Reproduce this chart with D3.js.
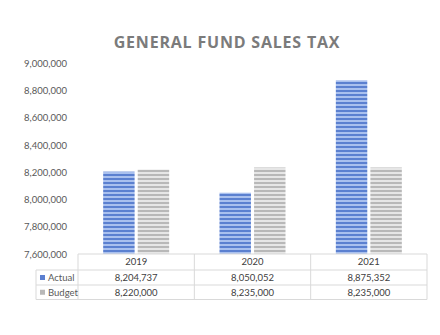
<!DOCTYPE html>
<html><head><meta charset="utf-8">
<script src="https://cdn.jsdelivr.net/npm/d3@7"></script>
<style>body{margin:0;background:#fff}svg{display:block}</style>
</head><body>
<svg id="c" width="440" height="335"></svg>
<script>
const categories = ["2019", "2020", "2021"];
const seriesNames = ["Actual", "Budget"];
const actual = [8204737, 8050052, 8875352];
const budget = [8220000, 8235000, 8235000];
const yTicks = [7600000, 7800000, 8000000, 8200000, 8400000, 8600000, 8800000, 9000000];
const title = "GENERAL FUND SALES TAX";

(function () {
const svg = d3.select("#c");
const font = "Open Sans, Noto Sans, sans-serif";
const sfont = "Lato, Open Sans, sans-serif";
const pLeft = 78, pRight = 427, pTop = 63.3, pBottom = 254;
const tableLeft = 36;

const x = d3.scaleBand().domain(categories).range([pLeft, pRight]);
const y = d3.scaleLinear().domain([7600000, 9000000]).range([pBottom, pTop]);
const xs = d3.scaleBand().domain(seriesNames).range([0, 66]).paddingInner(0.09);

const defs = svg.append("defs");
function stripes(id, light, dark) {
  const p = defs.append("pattern").attr("id", id).attr("patternUnits", "userSpaceOnUse")
    .attr("width", 4).attr("height", 4);
  p.append("rect").attr("width", 4).attr("height", 4).attr("fill", light);
  p.append("rect").attr("y", 2).attr("width", 4).attr("height", 2).attr("fill", dark);
}
stripes("pA", "#a9c0ee", "#5b80d0");
stripes("pB", "#e6e6e6", "#b8b8b8");
const fills = {Actual: "url(#pA)", Budget: "url(#pB)"};
const keyColors = {Actual: "#5b7fd0", Budget: "#b8b8b8"};

svg.append("text").attr("x", 227).attr("y", 48).attr("text-anchor", "middle")
  .attr("font-family", font).attr("font-weight", "bold").attr("font-size", 16)
  .attr("fill", "#7b7b7b").attr("letter-spacing", 0.8).text(title);

// y axis
const yAxis = d3.axisLeft(y).tickValues(yTicks).tickSize(0).tickPadding(11)
  .tickFormat(d3.format(","));
const ga = svg.append("g").attr("transform", `translate(${pLeft},0)`).call(yAxis);
ga.select(".domain").remove();
ga.selectAll("text").attr("font-family", sfont).attr("font-size", 9.5).attr("fill", "#595959");

// bars
const data = categories.map((c, i) => ({c, vals: [{s: "Actual", v: actual[i]}, {s: "Budget", v: budget[i]}]}));
const g = svg.append("g");
data.forEach(d => {
  const cx = x(d.c) + x.bandwidth() / 2 - 33;
  d.vals.forEach(v => {
    g.append("rect").attr("x", cx + xs(v.s)).attr("width", xs.bandwidth())
      .attr("y", y(v.v)).attr("height", y(7600000) - y(v.v)).attr("fill", fills[v.s]);
  });
});

// data table
const rows = [254, 270, 285, 299.5];
const lc = "#d9d9d9";
svg.append("line").attr("x1", pLeft).attr("x2", pRight).attr("y1", rows[0]).attr("y2", rows[0]).attr("stroke", lc);
[1, 2, 3].forEach(i => svg.append("line").attr("x1", tableLeft).attr("x2", pRight).attr("y1", rows[i]).attr("y2", rows[i]).attr("stroke", lc));
svg.append("line").attr("x1", tableLeft).attr("x2", tableLeft).attr("y1", rows[1]).attr("y2", rows[3]).attr("stroke", lc);
categories.forEach(c => {
  svg.append("line").attr("x1", x(c)).attr("x2", x(c)).attr("y1", rows[0]).attr("y2", rows[3]).attr("stroke", lc);
});
svg.append("line").attr("x1", pRight).attr("x2", pRight).attr("y1", rows[0]).attr("y2", rows[3]).attr("stroke", lc);

const tf = d3.format(",");
categories.forEach((c, i) => {
  const cx = x(c) + x.bandwidth() / 2;
  svg.append("text").attr("x", cx).attr("y", (rows[0] + rows[1]) / 2 + 3.4).attr("text-anchor", "middle")
    .attr("font-family", sfont).attr("font-size", 9.5).attr("fill", "#404040").text(c);
  svg.append("text").attr("x", cx).attr("y", (rows[1] + rows[2]) / 2 + 3.4).attr("text-anchor", "middle")
    .attr("font-family", sfont).attr("font-size", 9.5).attr("fill", "#404040").text(tf(actual[i]));
  svg.append("text").attr("x", cx).attr("y", (rows[2] + rows[3]) / 2 + 3.4).attr("text-anchor", "middle")
    .attr("font-family", sfont).attr("font-size", 9.5).attr("fill", "#404040").text(tf(budget[i]));
});
seriesNames.forEach((s, i) => {
  const cy = (rows[i + 1] + rows[i + 2]) / 2;
  svg.append("rect").attr("x", 40).attr("y", cy - 2.5).attr("width", 5).attr("height", 5).attr("fill", keyColors[s]);
  svg.append("text").attr("x", 48).attr("y", cy + 3.4).attr("font-family", sfont).attr("font-size", 9.5)
    .attr("fill", "#595959").text(s);
});
})();
</script>
</body></html>
